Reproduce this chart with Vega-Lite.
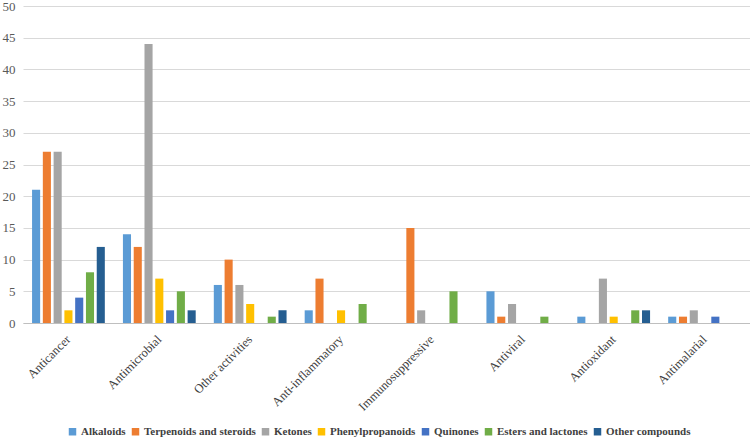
{
  "$schema": "https://vega.github.io/schema/vega-lite/v6.json",
  "autosize": {"type": "none"},
  "width": 727,
  "height": 317,
  "padding": {"left": 23, "top": 6, "right": 0, "bottom": 118},
  "background": "white",
  "data": {"values": [
    {"activity": "Anticancer", "compound": "Alkaloids", "count": 21},
    {"activity": "Anticancer", "compound": "Terpenoids and steroids", "count": 27},
    {"activity": "Anticancer", "compound": "Ketones", "count": 27},
    {"activity": "Anticancer", "compound": "Phenylpropanoids", "count": 2},
    {"activity": "Anticancer", "compound": "Quinones", "count": 4},
    {"activity": "Anticancer", "compound": "Esters and lactones", "count": 8},
    {"activity": "Anticancer", "compound": "Other compounds", "count": 12},
    {"activity": "Antimicrobial", "compound": "Alkaloids", "count": 14},
    {"activity": "Antimicrobial", "compound": "Terpenoids and steroids", "count": 12},
    {"activity": "Antimicrobial", "compound": "Ketones", "count": 44},
    {"activity": "Antimicrobial", "compound": "Phenylpropanoids", "count": 7},
    {"activity": "Antimicrobial", "compound": "Quinones", "count": 2},
    {"activity": "Antimicrobial", "compound": "Esters and lactones", "count": 5},
    {"activity": "Antimicrobial", "compound": "Other compounds", "count": 2},
    {"activity": "Other activities", "compound": "Alkaloids", "count": 6},
    {"activity": "Other activities", "compound": "Terpenoids and steroids", "count": 10},
    {"activity": "Other activities", "compound": "Ketones", "count": 6},
    {"activity": "Other activities", "compound": "Phenylpropanoids", "count": 3},
    {"activity": "Other activities", "compound": "Quinones", "count": 0},
    {"activity": "Other activities", "compound": "Esters and lactones", "count": 1},
    {"activity": "Other activities", "compound": "Other compounds", "count": 2},
    {"activity": "Anti-inflammatory", "compound": "Alkaloids", "count": 2},
    {"activity": "Anti-inflammatory", "compound": "Terpenoids and steroids", "count": 7},
    {"activity": "Anti-inflammatory", "compound": "Ketones", "count": 0},
    {"activity": "Anti-inflammatory", "compound": "Phenylpropanoids", "count": 2},
    {"activity": "Anti-inflammatory", "compound": "Quinones", "count": 0},
    {"activity": "Anti-inflammatory", "compound": "Esters and lactones", "count": 3},
    {"activity": "Anti-inflammatory", "compound": "Other compounds", "count": 0},
    {"activity": "Immunosuppressive", "compound": "Alkaloids", "count": 0},
    {"activity": "Immunosuppressive", "compound": "Terpenoids and steroids", "count": 15},
    {"activity": "Immunosuppressive", "compound": "Ketones", "count": 2},
    {"activity": "Immunosuppressive", "compound": "Phenylpropanoids", "count": 0},
    {"activity": "Immunosuppressive", "compound": "Quinones", "count": 0},
    {"activity": "Immunosuppressive", "compound": "Esters and lactones", "count": 5},
    {"activity": "Immunosuppressive", "compound": "Other compounds", "count": 0},
    {"activity": "Antiviral", "compound": "Alkaloids", "count": 5},
    {"activity": "Antiviral", "compound": "Terpenoids and steroids", "count": 1},
    {"activity": "Antiviral", "compound": "Ketones", "count": 3},
    {"activity": "Antiviral", "compound": "Phenylpropanoids", "count": 0},
    {"activity": "Antiviral", "compound": "Quinones", "count": 0},
    {"activity": "Antiviral", "compound": "Esters and lactones", "count": 1},
    {"activity": "Antiviral", "compound": "Other compounds", "count": 0},
    {"activity": "Antioxidant", "compound": "Alkaloids", "count": 1},
    {"activity": "Antioxidant", "compound": "Terpenoids and steroids", "count": 0},
    {"activity": "Antioxidant", "compound": "Ketones", "count": 7},
    {"activity": "Antioxidant", "compound": "Phenylpropanoids", "count": 1},
    {"activity": "Antioxidant", "compound": "Quinones", "count": 0},
    {"activity": "Antioxidant", "compound": "Esters and lactones", "count": 2},
    {"activity": "Antioxidant", "compound": "Other compounds", "count": 2},
    {"activity": "Antimalarial", "compound": "Alkaloids", "count": 1},
    {"activity": "Antimalarial", "compound": "Terpenoids and steroids", "count": 1},
    {"activity": "Antimalarial", "compound": "Ketones", "count": 2},
    {"activity": "Antimalarial", "compound": "Phenylpropanoids", "count": 0},
    {"activity": "Antimalarial", "compound": "Quinones", "count": 1},
    {"activity": "Antimalarial", "compound": "Esters and lactones", "count": 0},
    {"activity": "Antimalarial", "compound": "Other compounds", "count": 0}
  ]},
  "mark": {"type": "bar"},
  "encoding": {
    "x": {
      "field": "activity", "type": "nominal", "sort": null,
      "scale": {"paddingInner": 0, "paddingOuter": 0},
      "axis": {"title": null, "labelAngle": -45, "labelAlign": "right", "labelBaseline": "middle",
               "labelFont": "Times New Roman, Liberation Serif, serif", "labelFontSize": 12.5, "labelColor": "#404040",
               "ticks": false, "labelPadding": 14, "domainColor": "#bfbfbf", "grid": false}
    },
    "xOffset": {
      "field": "compound", "type": "nominal", "sort": null,
      "scale": {"paddingInner": 0.25, "paddingOuter": 0.84}
    },
    "y": {
      "field": "count", "type": "quantitative",
      "scale": {"domain": [0, 50]},
      "axis": {"title": null, "values": [0,5,10,15,20,25,30,35,40,45,50], "ticks": false, "domain": false,
               "labelFont": "Times New Roman, Liberation Serif, serif", "labelFontSize": 13, "labelColor": "#595959",
               "labelPadding": 8, "gridColor": "#d9d9d9", "gridWidth": 1}
    },
    "color": {
      "field": "compound", "type": "nominal", "sort": null,
      "scale": {
        "domain": ["Alkaloids", "Terpenoids and steroids", "Ketones", "Phenylpropanoids", "Quinones", "Esters and lactones", "Other compounds"],
        "range": ["#5B9BD5", "#ED7D31", "#A5A5A5", "#FFC000", "#4472C4", "#70AD47", "#255E91"]
      },
      "legend": {"title": null, "orient": "none", "direction": "horizontal", "legendX": 44, "legendY": 420,
                 "symbolType": "square", "symbolSize": 56, "symbolStrokeWidth": 0,
                 "labelFont": "Times New Roman, Liberation Serif, serif", "labelFontSize": 11, "labelFontWeight": "bold",
                 "labelColor": "#404040", "columnPadding": 4, "symbolOffset": 0, "labelOffset": 3, "padding": 0}
    }
  },
  "config": {"view": {"stroke": null}}
}
